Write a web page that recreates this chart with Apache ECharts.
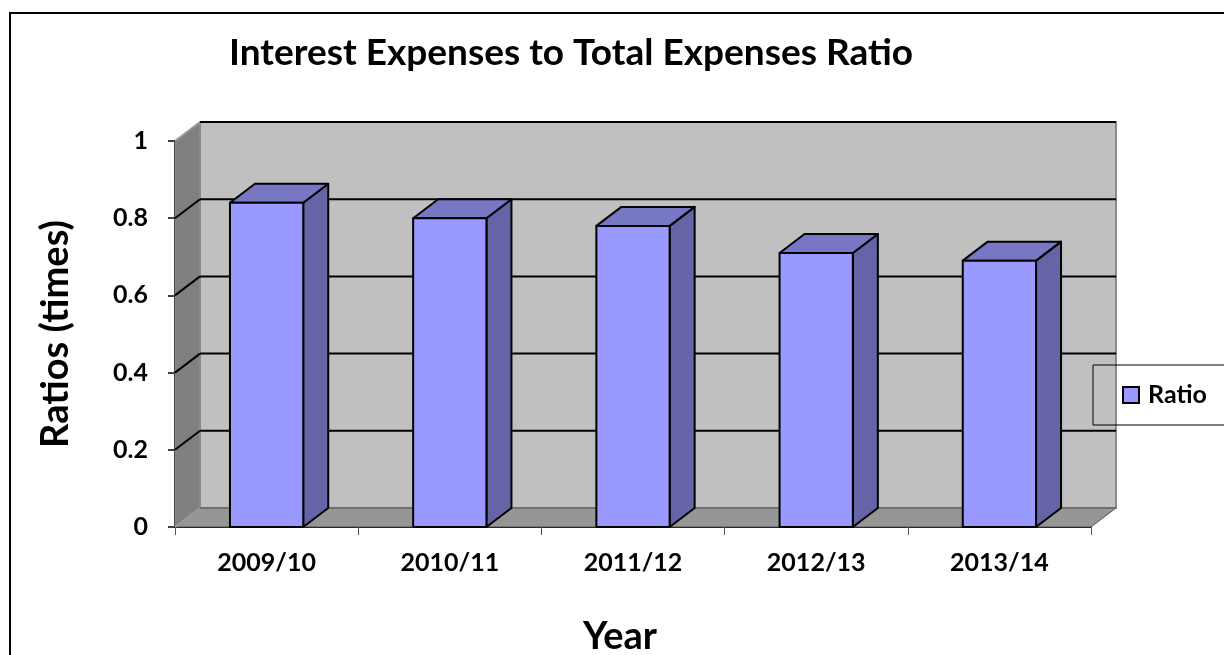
<!DOCTYPE html>
<html>
<head>
<meta charset="utf-8">
<script src="https://cdn.jsdelivr.net/npm/echarts@6/dist/echarts.min.js"></script>
<style>
  html, body { margin: 0; padding: 0; background: #fff; }
  #chart { width: 1224px; height: 655px; }
</style>
</head>
<body>
<div id="chart"></div>
<script>
// Chart data
const years = ['2009/10', '2010/11', '2011/12', '2012/13', '2013/14'];
const ratios = [0.84, 0.80, 0.78, 0.71, 0.69];
const yTicks = [0, 0.2, 0.4, 0.6, 0.8, 1];

// Pseudo-3D depth offset of the walls and column boxes
const DX = 25, DY = 19;
const FONT = 'Lato, "Open Sans", sans-serif';

const chart = echarts.init(document.getElementById('chart'));

// Side wall, back wall, floor and back gridlines, positioned from the grid and y scale
function renderWalls(params, api) {
  const cs = params.coordSys;
  const x0 = cs.x, x1 = cs.x + cs.width;
  const yt = cs.y, yb = cs.y + cs.height;
  const children = [];
  // left side wall
  children.push({
    type: 'polygon',
    shape: { points: [[x0, yb], [x0, yt], [x0 + DX, yt - DY], [x0 + DX, yb - DY]] },
    style: { fill: '#808080', stroke: '#8c8c8c', lineWidth: 1 }
  });
  // back wall
  children.push({
    type: 'rect',
    shape: { x: x0 + DX, y: yt - DY, width: x1 - x0, height: yb - yt },
    style: { fill: '#c0c0c0', stroke: '#8a8a8a', lineWidth: 2 }
  });
  // floor
  children.push({
    type: 'polygon',
    shape: { points: [[x0, yb], [x1, yb], [x1 + DX, yb - DY], [x0 + DX, yb - DY]] },
    style: { fill: '#969696', stroke: '#555', lineWidth: 1 }
  });
  // gridlines running along the side wall and across the back wall
  yTicks.forEach(function (v) {
    const y = api.coord([0, v])[1];
    const isEdge = (v === 0);
    const isTop = (v === yTicks[yTicks.length - 1]);
    children.push({
      type: 'line',
      shape: { x1: x0, y1: y, x2: x0 + DX, y2: y - DY },
      style: { stroke: (isEdge || isTop) ? '#9a9a9a' : '#000', lineWidth: 2 }
    });
    children.push({
      type: 'line',
      shape: { x1: x0 + DX, y1: y - DY, x2: x1 + DX, y2: y - DY },
      style: { stroke: isEdge ? '#6e6e6e' : '#000', lineWidth: isEdge ? 1 : 2 }
    });
  });
  return { type: 'group', children: children };
}

// One box per column: front face, top face and right side face
function renderColumn(params, api) {
  const idx = api.value(0);
  const top = api.coord([idx, api.value(1)]);
  const base = api.coord([idx, 0]);
  const band = api.size([1, 0])[0];
  const w = band * 0.4;
  const xa = top[0] - w / 2, xb = top[0] + w / 2;
  const yt = top[1], yb = base[1];
  const line = { stroke: '#000', lineWidth: 2, lineJoin: 'round' };
  return {
    type: 'group',
    children: [
      {
        type: 'polygon',
        shape: { points: [[xb, yt], [xb + DX, yt - DY], [xb + DX, yb - DY], [xb, yb]] },
        style: Object.assign({ fill: '#6464a6' }, line)
      },
      {
        type: 'polygon',
        shape: { points: [[xa, yt], [xa + DX, yt - DY], [xb + DX, yt - DY], [xb, yt]] },
        style: Object.assign({ fill: '#7777c4' }, line)
      },
      {
        type: 'rect',
        shape: { x: xa, y: yt, width: w, height: yb - yt },
        style: Object.assign({ fill: '#9999ff' }, line)
      }
    ]
  };
}

const option = {
  animation: false,
  backgroundColor: '#ffffff',
  title: {
    text: 'Interest Expenses to Total Expenses Ratio',
    left: 229,
    top: 35,
    padding: 0,
    textStyle: { fontFamily: FONT, fontWeight: 'bold', fontSize: 37, color: '#000' }
  },
  legend: {
    data: [{ name: 'Ratio', icon: 'rect' }],
    left: 1093,
    top: 365,
    orient: 'vertical',
    padding: [17, 300, 17, 29],
    itemWidth: 16,
    itemHeight: 16,
    itemGap: 0,
    borderColor: '#000',
    borderWidth: 1,
    itemStyle: { color: '#9999ff', borderColor: '#000', borderWidth: 2 },
    textStyle: { fontFamily: FONT, fontWeight: 'bold', fontSize: 25, color: '#000', lineHeight: 26, padding: [0, 0, 0, 4] }
  },
  grid: { left: 175, right: 133, top: 141, bottom: 128, containLabel: false, outerBoundsMode: 'none' },
  xAxis: {
    type: 'category',
    data: years,
    boundaryGap: true,
    name: 'Year',
    nameLocation: 'middle',
    nameGap: 91,
    nameTextStyle: { fontFamily: FONT, fontWeight: 'bold', fontSize: 38, color: '#000', padding: [0, 26, 0, 0] },
    axisLine: { show: true, lineStyle: { color: '#000', width: 2 } },
    axisTick: { show: true, alignWithLabel: false, length: 8, lineStyle: { color: '#555', width: 1 } },
    axisLabel: { margin: 23, fontFamily: FONT, fontWeight: 'bold', fontSize: 25, color: '#000' },
    splitLine: { show: false }
  },
  yAxis: {
    type: 'value',
    min: 0,
    max: 1,
    interval: 0.2,
    name: 'Ratios (times)',
    nameLocation: 'middle',
    nameRotate: 90,
    nameGap: 100,
    nameTextStyle: { fontFamily: FONT, fontWeight: 'bold', fontSize: 38, color: '#000' },
    axisLine: { show: true, lineStyle: { color: '#000', width: 2 } },
    axisTick: { show: true, length: 7, lineStyle: { color: '#000', width: 1.5 } },
    axisLabel: {
      margin: 27,
      fontFamily: FONT, fontWeight: 'bold', fontSize: 25, color: '#000',
      formatter: function (v) { return String(+v.toFixed(1)); }
    },
    splitLine: { show: false }
  },
  graphic: [{
    type: 'rect',
    z: -10,
    silent: true,
    shape: { x: 10, y: 13, width: 1400, height: 800 },
    style: { fill: 'none', stroke: '#000', lineWidth: 2 }
  }],
  series: [
    {
      type: 'custom',
      name: 'walls',
      z: 1,
      silent: true,
      renderItem: renderWalls,
      data: [[0, 0]]
    },
    {
      type: 'custom',
      name: 'Ratio',
      z: 2,
      itemStyle: { color: '#9999ff', borderColor: '#000', borderWidth: 2 },
      renderItem: renderColumn,
      encode: { x: 0, y: 1 },
      data: ratios.map(function (v, i) { return [i, v]; })
    }
  ]
};

chart.setOption(option);
</script>
</body>
</html>
